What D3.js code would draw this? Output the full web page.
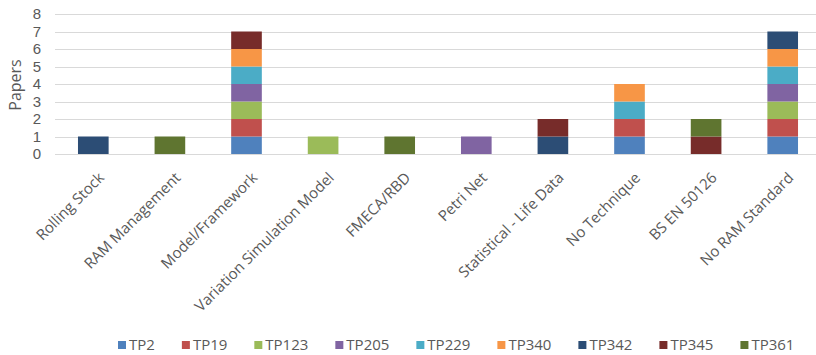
<!DOCTYPE html>
<html>
<head>
<meta charset="utf-8">
<script src="https://d3js.org/d3.v7.min.js"></script>
<style>
  body { margin: 0; background: #fff; }
  svg { display: block; }
</style>
</head>
<body>
<div id="chart"></div>
<script>
// categories on the x axis
var categories = ["Rolling Stock", "RAM Management", "Model/Framework", "Variation Simulation Model",
  "FMECA/RBD", "Petri Net", "Statistical - Life Data", "No Technique", "BS EN 50126", "No RAM Standard"]

// one array per paper, values in category order
var TP2   = [0, 0, 1, 0, 0, 0, 0, 1, 0, 1]
var TP19  = [0, 0, 1, 0, 0, 0, 0, 1, 0, 1]
var TP123 = [0, 0, 1, 1, 0, 0, 0, 0, 0, 1]
var TP205 = [0, 0, 1, 0, 0, 1, 0, 0, 0, 1]
var TP229 = [0, 0, 1, 0, 0, 0, 0, 1, 0, 1]
var TP340 = [0, 0, 1, 0, 0, 0, 0, 1, 0, 1]
var TP342 = [1, 0, 0, 0, 0, 0, 1, 0, 0, 1]
var TP345 = [0, 0, 1, 0, 0, 0, 1, 0, 1, 0]
var TP361 = [0, 1, 0, 0, 1, 0, 0, 0, 1, 0]

var seriesNames = ["TP2", "TP19", "TP123", "TP205", "TP229", "TP340", "TP342", "TP345", "TP361"]
var seriesValues = [TP2, TP19, TP123, TP205, TP229, TP340, TP342, TP345, TP361]
var colors = ["#4F81BD", "#C0504D", "#9BBB59", "#8064A2", "#4BACC6", "#F79646", "#2C4D75", "#772C2A", "#5F7530"]

var yTicks = [0, 1, 2, 3, 4, 5, 6, 7, 8]

var width = 816, height = 355
var margin = {top: 14, right: -5, bottom: 201, left: 55}

var svg = d3.select("#chart").append("svg")
  .attr("width", width)
  .attr("height", height)

// build rows for the stack
var rows = categories.map(function(c, i) {
  var r = {category: c}
  seriesNames.forEach(function(s, j) { r[s] = seriesValues[j][i] })
  return r
})
var stacked = d3.stack().keys(seriesNames)(rows)

var x = d3.scaleBand()
  .domain(categories)
  .range([margin.left, width - margin.right])
  .paddingInner(0.6)
  .paddingOuter(0.3)

var y = d3.scaleLinear()
  .domain([0, 8])
  .range([height - margin.bottom, margin.top])

// gridlines
svg.append("g")
  .selectAll("line")
  .data(yTicks)
  .enter().append("line")
  .attr("x1", margin.left)
  .attr("x2", width)
  .attr("y1", function(d) { return Math.round(y(d)) + 0.5 })
  .attr("y2", function(d) { return Math.round(y(d)) + 0.5 })
  .attr("stroke", "#d9d9d9")
  .attr("stroke-width", 1.2)

// y axis labels
var yAxis = svg.append("g")
  .attr("transform", "translate(" + (margin.left - 14) + ",0)")
  .call(d3.axisLeft(y).tickValues(yTicks).tickSize(0).tickPadding(0))
yAxis.select(".domain").remove()
yAxis.selectAll("text")
  .attr("font-family", "Liberation Sans")
  .attr("font-size", 15)
  .attr("fill", "#595959")

svg.append("text")
  .attr("transform", "translate(21," + 85 + ") rotate(-90)")
  .attr("text-anchor", "middle")
  .attr("font-family", "Open Sans")
  .attr("font-size", 16)
  .attr("fill", "#595959")
  .text("Papers")

// bars
svg.append("g")
  .selectAll("g")
  .data(stacked)
  .enter().append("g")
  .attr("fill", function(d, i) { return colors[i] })
  .selectAll("rect")
  .data(function(d) { return d.filter(function(p) { return p[1] > p[0] }) })
  .enter().append("rect")
  .attr("x", function(d) { return x(d.data.category) })
  .attr("y", function(d) { return y(d[1]) })
  .attr("width", x.bandwidth())
  .attr("height", function(d) { return y(d[0]) - y(d[1]) })

// x axis labels
var xAxis = svg.append("g")
  .attr("transform", "translate(0," + (height - margin.bottom) + ")")
  .call(d3.axisBottom(x).tickSize(0).tickPadding(0))
xAxis.select(".domain").remove()
xAxis.selectAll("text")
  .attr("font-family", "Open Sans")
  .attr("font-size", 15)
  .attr("fill", "#595959")
  .attr("text-anchor", "end")
  .attr("dy", "0.35em")
  .attr("transform", "translate(8,21) rotate(-45)")

// legend
var legend = svg.append("g")
  .attr("transform", "translate(0,345)")
var lx = 118
seriesNames.forEach(function(s, i) {
  var item = legend.append("g").attr("transform", "translate(" + lx + ",0)")
  item.append("rect")
    .attr("x", 0).attr("y", -4)
    .attr("width", 8).attr("height", 8)
    .attr("fill", colors[i])
  var t = item.append("text")
    .attr("x", 11)
    .attr("dy", "0.35em")
    .attr("font-family", "Open Sans")
    .attr("font-size", 15)
    .attr("fill", "#595959")
    .text(s)
  lx += 11 + t.node().getComputedTextLength() + 27
})
</script>
</body>
</html>
